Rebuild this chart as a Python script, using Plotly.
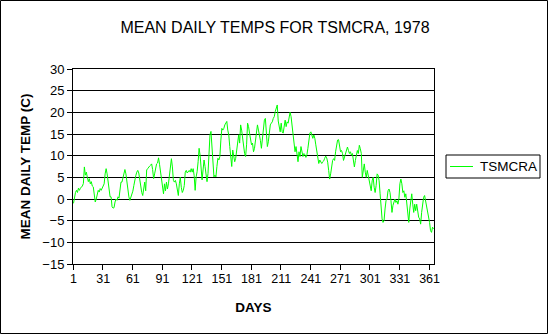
import plotly.graph_objects as go

series_name = "TSMCRA"
temps = [
    -1.0, 0.5, 1.5, 2.0, 1.5, 2.5, 2.0, 2.5, 2.8, 3.0,
    3.6, 7.4, 5.5, 6.2, 5.0, 4.0, 4.7, 3.5, 4.0, 3.0,
    2.8, 0.5, -0.7, 0.0, 1.2, 2.0, 1.6, 2.4, 2.0, 2.4,
    2.8, 3.5, 5.8, 7.0, 5.8, 4.0, 2.0, 0.5, 0.5, -1.8,
    -2.1, -2.0, -0.7, 0.0, -0.3, 0.5, 0.2, 2.0, 3.9, 3.9,
    5.0, 6.2, 6.8, 5.8, 3.5, 1.2, 0.5, -0.3, 0.3, 0.8,
    1.8, 3.1, 4.6, 5.4, 6.2, 6.6, 6.0, 4.3, 3.5, 1.5,
    0.8, 2.0, 3.9, 1.9, 6.7, 7.0, 7.4, 7.6, 7.8, 8.1,
    6.8, 4.7, 5.8, 7.4, 8.1, 8.3, 9.5, 8.0, 6.2, 3.9,
    1.9, 1.2, 3.5, 1.9, 3.9, 2.3, 3.5, 5.4, 8.1, 9.3,
    7.4, 4.3, 3.9, 4.3, 3.5, 1.6, 0.8, 3.5, 5.0, 2.7,
    1.5, 2.0, 3.1, 6.2, 6.6, 6.0, 6.2, 6.6, 6.2, 7.0,
    6.2, 7.0, 5.4, 2.0, 5.1, 6.3, 8.6, 11.7, 10.1, 5.9,
    4.4, 6.7, 9.0, 7.5, 5.5, 4.0, 5.9, 11.3, 14.8, 15.6,
    11.3, 6.7, 5.1, 5.5, 5.1, 7.5, 9.4, 9.0, 9.8, 13.6,
    16.3, 15.9, 16.3, 17.1, 17.5, 17.9, 15.9, 14.8, 12.1, 9.8,
    7.5, 11.3, 9.4, 8.6, 9.4, 10.9, 12.9, 14.8, 12.9, 17.1,
    15.9, 13.6, 11.7, 10.5, 9.8, 12.5, 17.5, 16.7, 15.2, 13.6,
    12.5, 12.9, 10.9, 11.7, 13.6, 15.2, 17.1, 15.9, 14.0, 13.5,
    11.7, 13.6, 16.7, 18.2, 18.6, 15.5, 12.1, 13.2, 15.2, 17.1,
    17.5, 17.8, 18.6, 19.0, 20.2, 20.9, 21.7, 18.0, 16.7, 15.5,
    17.5, 15.5, 15.2, 17.1, 18.2, 16.7, 17.8, 17.5, 18.6, 20.0,
    19.0, 16.7, 14.0, 12.5, 10.9, 12.1, 9.8, 8.6, 10.9, 9.8,
    12.1, 10.9, 9.8, 10.5, 10.2, 9.6, 10.2, 11.7, 13.6, 15.2,
    15.5, 14.8, 14.0, 14.8, 14.0, 12.5, 10.9, 9.9, 8.2, 9.0,
    8.6, 8.2, 8.6, 8.8, 9.4, 9.9, 9.5, 8.5, 6.6, 4.6,
    5.8, 7.4, 8.9, 9.3, 8.9, 10.9, 12.8, 13.6, 13.7, 12.4,
    10.9, 11.2, 10.5, 8.9, 9.7, 10.5, 11.2, 12.0, 11.2, 10.5,
    10.9, 10.1, 10.5, 8.9, 7.4, 8.9, 10.1, 11.2, 10.5, 12.4,
    11.6, 10.5, 5.0, 6.6, 8.1, 6.2, 5.0, 6.6, 5.4, 3.9,
    2.3, 1.9, 4.2, 5.0, 2.7, 1.5, 3.1, 5.8, 5.5, 4.2,
    1.2, -1.9, -4.6, -5.4, -5.0, -2.3, -0.4, 0.0, 1.9, 2.3,
    1.5, -0.4, -3.1, -1.5, -0.8, 0.0, -0.8, -0.4, -1.2, 0.0,
    3.5, 4.6, 3.5, 1.5, 1.9, 0.4, 1.2, -1.2, -3.5, -5.4,
    -2.3, -0.4, 1.2, -1.2, -3.1, -1.2, -2.7, -1.2, -3.1, -4.2,
    -4.6, -5.8, -3.1, -1.2, 0.4, 0.8, -0.4, -1.2, -2.3, -3.8,
    -5.4, -7.3, -7.7, -6.5, -6.9,
]
days = list(range(1, len(temps) + 1))
x_tick_vals = [1, 31, 61, 91, 121, 151, 181, 211, 241, 271, 301, 331, 361]
y_tick_vals = [-15, -10, -5, 0, 5, 10, 15, 20, 25, 30]

W, H = 550, 336
ML, MR, MT, MB = 73, 116, 69, 72
PW, PH = W - ML - MR, H - MT - MB

def px(xp):
    return (xp - ML) / PW

def py(yp):
    return (H - MB - yp) / PH

FONT = "Liberation Sans, Arial, sans-serif"

fig = go.Figure()
fig.add_trace(go.Scatter(
    x=days, y=temps, mode="lines", name=series_name,
    line=dict(color="#00FF00", width=1), showlegend=False,
))

shapes = [
    # outer chart border
    dict(type="rect", xref="paper", yref="paper",
         x0=px(0.5), x1=px(547.5), y0=py(333.5), y1=py(0.5),
         line=dict(color="black", width=1), fillcolor="rgba(0,0,0,0)", layer="below"),
    # legend box
    dict(type="rect", xref="paper", yref="paper",
         x0=px(446), x1=px(540), y0=py(178), y1=py(155),
         line=dict(color="black", width=1), fillcolor="white"),
    # legend line sample
    dict(type="line", xref="paper", yref="paper",
         x0=px(450), x1=px(473), y0=py(166.5), y1=py(166.5),
         line=dict(color="#00FF00", width=1)),
]

annotations = [
    dict(text=series_name, xref="paper", yref="paper", x=px(478), y=py(166.5),
         xanchor="left", yanchor="middle", showarrow=False,
         font=dict(family=FONT, size=13.5, color="black")),
]

fig.update_layout(
    width=W, height=H,
    margin=dict(l=ML, r=MR, t=MT, b=MB, pad=0),
    paper_bgcolor="white", plot_bgcolor="white",
    title=dict(text="MEAN DAILY TEMPS FOR TSMCRA, 1978",
               x=0.5, xref="container", xanchor="center",
               y=1 - 27.5 / H, yref="container", yanchor="middle",
               font=dict(family=FONT, size=16, color="black")),
    xaxis=dict(
        range=[0.5, 365.5], tickmode="array", tickvals=x_tick_vals,
        ticktext=[str(v) for v in x_tick_vals],
        ticks="", showgrid=False, zeroline=False,
        showline=True, linecolor="black", linewidth=1, mirror=True,
        minor=dict(tick0=0.5, dtick=30, ticks="outside", ticklen=5,
                   tickcolor="black", tickwidth=1, showgrid=False),
        ticklabelstandoff=3,
        tickfont=dict(family=FONT, size=12.5, color="black"),
        title=dict(text="<b>DAYS</b>", standoff=17,
                   font=dict(family=FONT, size=13.5, color="black")),
    ),
    yaxis=dict(
        range=[-15, 30], tickmode="array", tickvals=y_tick_vals,
        ticks="outside", ticklen=5, tickcolor="black", tickwidth=1,
        showgrid=True, gridcolor="black", gridwidth=1,
        zeroline=True, zerolinecolor="black", zerolinewidth=1,
        showline=True, linecolor="black", linewidth=1, mirror=True,
        tickfont=dict(family=FONT, size=13, color="black"),
        title=dict(text="<b>MEAN DAILY TEMP (C)</b>", standoff=8,
                   font=dict(family=FONT, size=13.5, color="black")),
    ),
    shapes=shapes,
    annotations=annotations,
)

fig.write_html("out.html")
